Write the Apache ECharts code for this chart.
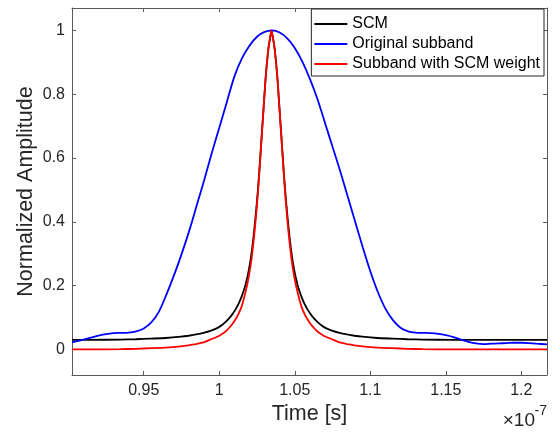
<!DOCTYPE html>
<html>
<head>
<meta charset="utf-8">
<script src="https://cdn.jsdelivr.net/npm/echarts@6/dist/echarts.min.js"></script>
<style>
html,body{margin:0;padding:0;background:#fff;}
#chart{width:553px;height:437px;}
</style>
</head>
<body>
<div id="chart"></div>
<script>
// Time in units of 1e-7 s
var xTicks = [0.95, 1, 1.05, 1.1, 1.15, 1.2];
var yTicks = [0, 0.2, 0.4, 0.6, 0.8, 1];

// shared time grid for the SCM and weighted curves
var peakTime = [0.9025, 0.9146, 0.9346, 0.9446, 0.9546, 0.9646, 0.9746, 0.9796, 0.9846, 0.9896, 0.9946, 0.9986, 1.0016, 1.0046, 1.0066, 1.0086, 1.0106, 1.0126, 1.0146, 1.0156, 1.0166, 1.0176, 1.0186, 1.0196, 1.0206, 1.0216, 1.0226, 1.0236, 1.0246, 1.0256, 1.0266, 1.0276, 1.0286, 1.0296, 1.0306, 1.0316, 1.0326, 1.0336, 1.0346,
  1.0356, 1.0366, 1.0376, 1.0386, 1.0396, 1.0406, 1.0416, 1.0426, 1.0436, 1.0446, 1.0456, 1.0466, 1.0476, 1.0486, 1.0496, 1.0506, 1.0516, 1.0526, 1.0536, 1.0546, 1.0566, 1.0586, 1.0606, 1.0626, 1.0646, 1.0676, 1.0706, 1.0746, 1.0796, 1.0846, 1.0896, 1.0946, 1.1046, 1.1146, 1.1246, 1.1346, 1.1546, 1.1846, 1.217];

var scmAmp = [0.030, 0.030, 0.031, 0.032, 0.034, 0.036, 0.040, 0.043, 0.047, 0.052, 0.059, 0.067, 0.076, 0.088, 0.098, 0.110, 0.124, 0.141, 0.163, 0.176, 0.190, 0.207, 0.227, 0.250, 0.277, 0.310, 0.350, 0.395, 0.445, 0.500, 0.565, 0.635, 0.705, 0.775, 0.845, 0.900, 0.945, 0.975, 1.000,
  0.975, 0.945, 0.900, 0.845, 0.775, 0.705, 0.635, 0.565, 0.500, 0.445, 0.395, 0.350, 0.310, 0.277, 0.250, 0.227, 0.207, 0.190, 0.176, 0.163, 0.141, 0.124, 0.110, 0.098, 0.088, 0.076, 0.067, 0.059, 0.052, 0.047, 0.043, 0.040, 0.036, 0.034, 0.032, 0.031, 0.030, 0.030, 0.030];

var weightedAmp = [0.000, 0.000, 0.001, 0.002, 0.004, 0.006, 0.010, 0.013, 0.017, 0.022, 0.032, 0.040, 0.048, 0.058, 0.068, 0.079, 0.093, 0.110, 0.132, 0.147, 0.165, 0.185, 0.205, 0.230, 0.258, 0.292, 0.333, 0.380, 0.432, 0.490, 0.558, 0.630, 0.702, 0.773, 0.844, 0.900, 0.945, 0.975, 1.000,
  0.975, 0.945, 0.900, 0.844, 0.773, 0.702, 0.630, 0.558, 0.490, 0.432, 0.380, 0.333, 0.292, 0.258, 0.230, 0.205, 0.185, 0.165, 0.147, 0.132, 0.110, 0.093, 0.079, 0.068, 0.058, 0.048, 0.040, 0.032, 0.022, 0.017, 0.013, 0.010, 0.006, 0.004, 0.002, 0.001, 0.000, 0.000, 0.000];

var origTime = [0.9025, 0.905, 0.910, 0.915, 0.920, 0.925, 0.930, 0.935, 0.940, 0.945, 0.950, 0.955, 0.960, 0.965, 0.970, 0.975, 0.980, 0.985, 0.990, 0.995, 1.000, 1.005, 1.010, 1.015, 1.020, 1.025, 1.030, 1.035,
  1.040, 1.045, 1.050, 1.055, 1.060, 1.065, 1.070, 1.075, 1.080, 1.085, 1.090, 1.095, 1.100, 1.105, 1.110, 1.115, 1.120, 1.125, 1.130, 1.135, 1.140, 1.145, 1.150, 1.155, 1.160, 1.165, 1.170, 1.175, 1.180, 1.185, 1.190, 1.195, 1.200, 1.205, 1.210, 1.217];
var origAmp = [0.022, 0.025, 0.031, 0.037, 0.043, 0.048, 0.051, 0.052, 0.053, 0.057, 0.066, 0.085, 0.118, 0.172, 0.232, 0.298, 0.370, 0.450, 0.530, 0.615, 0.695, 0.775, 0.855, 0.912, 0.952, 0.980, 0.995, 1.000,
  0.993, 0.975, 0.945, 0.902, 0.848, 0.785, 0.710, 0.635, 0.560, 0.480, 0.400, 0.320, 0.245, 0.180, 0.128, 0.092, 0.068, 0.057, 0.053, 0.052, 0.051, 0.049, 0.045, 0.039, 0.031, 0.024, 0.019, 0.017, 0.018, 0.019, 0.020, 0.021, 0.021, 0.020, 0.018, 0.016];

var seriesNames = ['SCM', 'Original subband', 'Subband with SCM weight'];
var seriesColors = ['#000000', '#0000ff', '#ff0000'];

function pairs(t, a) { return t.map(function (v, i) { return [v, a[i]]; }); }

var FONT = '"Liberation Sans", Arial, sans-serif';
var TXT = '#262626';
var AX = '#5a5a5a';

var chart = echarts.init(document.getElementById('chart'), null, {renderer: 'canvas'});

function xAxisCfg(pos, showLabel) {
  return {
    type: 'value', position: pos, min: 0.9025, max: 1.217,
    name: showLabel ? 'Time [s]' : '', nameLocation: 'middle', nameGap: 28, nameMoveOverlap: false,
    nameTextStyle: {fontFamily: FONT, fontSize: 21.5, color: TXT},
    axisLine: {show: true, onZero: false, lineStyle: {color: AX, width: 1}},
    axisTick: {show: true, inside: true, length: 4, customValues: xTicks, lineStyle: {color: AX}},
    axisLabel: {show: showLabel, customValues: xTicks, margin: 8, fontFamily: FONT, fontSize: 16, color: TXT},
    splitLine: {show: false}
  };
}
function yAxisCfg(pos, showLabel) {
  return {
    type: 'value', position: pos, min: -0.08, max: 1.07,
    name: showLabel ? 'Normalized Amplitude' : '', nameLocation: 'middle', nameGap: 35, nameMoveOverlap: false,
    nameTextStyle: {fontFamily: FONT, fontSize: 21.5, color: TXT},
    axisLine: {show: true, onZero: false, lineStyle: {color: AX, width: 1}},
    axisTick: {show: true, inside: true, length: 4, customValues: yTicks, lineStyle: {color: AX}},
    axisLabel: {show: showLabel, customValues: yTicks, margin: 7, fontFamily: FONT, fontSize: 16, color: TXT},
    splitLine: {show: false}
  };
}

var data = [pairs(peakTime, scmAmp), pairs(origTime, origAmp), pairs(peakTime, weightedAmp)];

chart.setOption({
  animation: false,
  backgroundColor: '#fff',
  grid: {left: 72, right: 6, top: 8, bottom: 62, containLabel: false},
  xAxis: [xAxisCfg('bottom', true), xAxisCfg('top', false)],
  yAxis: [yAxisCfg('left', true), yAxisCfg('right', false)],
  legend: {
    orient: 'vertical', right: 9, top: 9,
    data: seriesNames,
    icon: 'rect', itemWidth: 33, itemHeight: 2, itemGap: 4,
    padding: [7, 4, 4, 3],
    backgroundColor: '#fff', borderColor: '#262626', borderWidth: 1,
    textStyle: {fontFamily: FONT, fontSize: 16, color: '#000'}
  },
  graphic: [
    {type: 'text', right: 18, top: 411, style: {text: '\u00d710', font: '19px "Liberation Sans", Arial, sans-serif', fill: TXT}},
    {type: 'text', right: 6, top: 404, style: {text: '-7', font: '14px "Liberation Sans", Arial, sans-serif', fill: TXT}}
  ],
  series: seriesNames.map(function (n, i) {
    return {
      name: n, type: 'line', data: data[i], showSymbol: false, symbol: 'none',
      smooth: i === 1 ? 0.3 : 0.15,
      lineStyle: {color: seriesColors[i], width: 1.8},
      itemStyle: {color: seriesColors[i]},
      z: 2 + i
    };
  })
});
</script>
</body>
</html>
